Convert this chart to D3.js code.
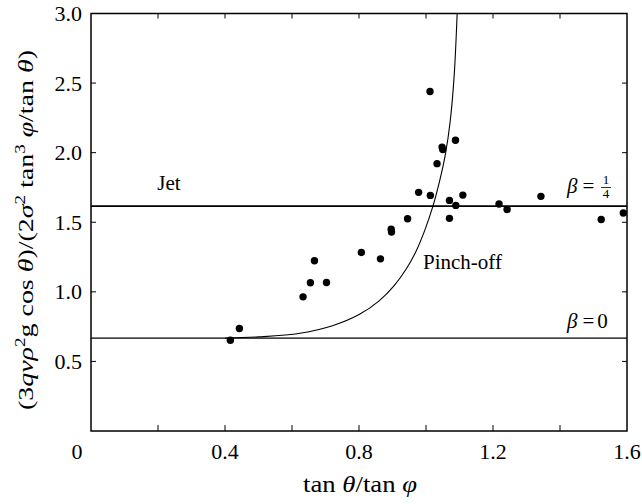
<!DOCTYPE html>
<html>
<head>
<meta charset="utf-8">
<script src="https://cdn.jsdelivr.net/npm/d3@7"></script>
<style>
  body { margin: 0; background: #fff; }
</style>
</head>
<body>
<svg id="chart" width="642" height="504"></svg>
<script>
// measured points (tan theta / tan phi, scaled flux)
var puntosX = [0.416, 0.443, 0.633, 0.655, 0.667, 0.703, 0.807, 0.864, 0.896, 0.897, 0.945, 0.978,
               1.012, 1.013, 1.033, 1.048, 1.050, 1.070, 1.070, 1.088, 1.089, 1.110, 1.218, 1.242,
               1.343, 1.523, 1.589];
var puntosY = [0.652, 0.736, 0.964, 1.065, 1.223, 1.067, 1.283, 1.237, 1.450, 1.430, 1.525, 1.715,
               2.439, 1.693, 1.921, 2.040, 2.022, 1.657, 1.528, 2.089, 1.621, 1.695, 1.631, 1.592,
               1.686, 1.520, 1.566];

// pinch-off boundary
var curvaX = [0.400, 0.500, 0.624, 0.723, 0.803, 0.860, 0.905, 0.940, 0.970, 0.996, 1.020, 1.040, 1.058, 1.072, 1.084, 1.093];
var curvaY = [0.667, 0.676, 0.702, 0.758, 0.840, 0.935, 1.045, 1.160, 1.290, 1.440, 1.610, 1.790, 1.990, 2.220, 2.550, 3.000];

var betaCero = 0.667;
var betaCuarto = 1.616;

var ticksX = [0.4, 0.8, 1.2, 1.6];
var ticksXmenor = [0.2, 0.4, 0.6, 0.8, 1.0, 1.2, 1.4];
var ticksY = [0.5, 1.0, 1.5, 2.0, 2.5, 3.0];

var margen = { izq: 91, der: 627, arr: 13.5, aba: 431 };
var fuente = "Liberation Serif";

var svg = d3.select("#chart");
var x = d3.scaleLinear().domain([0, 1.6]).range([margen.izq, margen.der]);
var y = d3.scaleLinear().domain([0, 3.0]).range([margen.aba, margen.arr]);

// horizontal beta lines
svg.append("line")
    .attr("x1", x(0)).attr("x2", x(1.6))
    .attr("y1", y(betaCuarto)).attr("y2", y(betaCuarto))
    .attr("stroke", "#000").attr("stroke-width", 1.7);
svg.append("line")
    .attr("x1", x(0)).attr("x2", x(1.6))
    .attr("y1", y(betaCero)).attr("y2", y(betaCero))
    .attr("stroke", "#000").attr("stroke-width", 1.2);

// boundary curve
var curva = d3.line()
    .x(function (d) { return x(d[0]); })
    .y(function (d) { return y(d[1]); })
    .curve(d3.curveCatmullRom.alpha(0.5));
svg.append("path")
    .datum(d3.zip(curvaX, curvaY))
    .attr("d", curva)
    .attr("fill", "none")
    .attr("stroke", "#000")
    .attr("stroke-width", 1.1);

// points
svg.append("g").selectAll("circle")
    .data(d3.zip(puntosX, puntosY))
    .enter().append("circle")
    .attr("cx", function (d) { return x(d[0]); })
    .attr("cy", function (d) { return y(d[1]); })
    .attr("r", 3.7)
    .attr("fill", "#000");

// frame
svg.append("rect")
    .attr("x", margen.izq).attr("y", margen.arr)
    .attr("width", margen.der - margen.izq).attr("height", margen.aba - margen.arr)
    .attr("fill", "none").attr("stroke", "#000").attr("stroke-width", 1.5);

// inward ticks
var gt = svg.append("g").attr("stroke", "#000").attr("stroke-width", 1);
ticksXmenor.forEach(function (t) {
    gt.append("line").attr("x1", x(t)).attr("x2", x(t)).attr("y1", margen.aba).attr("y2", margen.aba - 6);
    gt.append("line").attr("x1", x(t)).attr("x2", x(t)).attr("y1", margen.arr).attr("y2", margen.arr + 5);
});
ticksY.slice(0, 5).forEach(function (t) {
    gt.append("line").attr("x1", margen.izq).attr("x2", margen.izq + 5).attr("y1", y(t)).attr("y2", y(t));
    gt.append("line").attr("x1", margen.der).attr("x2", margen.der - 5).attr("y1", y(t)).attr("y2", y(t));
});

// tick labels
svg.append("g").selectAll("text")
    .data(ticksX).enter().append("text")
    .attr("x", function (d) { return x(d); })
    .attr("y", 459)
    .attr("text-anchor", "middle")
    .attr("font-size", 22)
    .text(function (d) { return d3.format(".1f")(d); });
svg.append("text").attr("x", 77).attr("y", 459).attr("text-anchor", "middle")
    .attr("font-size", 22).text("0");
svg.append("g").selectAll("text")
    .data(ticksY).enter().append("text")
    .attr("x", 82)
    .attr("y", function (d) { return y(d) + 7.5; })
    .attr("text-anchor", "end")
    .attr("font-size", 22)
    .text(function (d) { return d3.format(".1f")(d); });

// axis titles
var tx = svg.append("text").attr("x", 303).attr("y", 492)
    .attr("font-size", 24)
    .attr("textLength", 114).attr("lengthAdjust", "spacingAndGlyphs");
tx.append("tspan").text("tan ");
tx.append("tspan").attr("font-style", "italic").text("θ");
tx.append("tspan").text("/tan ");
tx.append("tspan").attr("font-style", "italic").text("φ");

var ty = svg.append("text")
    .attr("transform", "translate(33,410) rotate(-90)")
    .attr("font-size", 22)
    .attr("textLength", 360).attr("lengthAdjust", "spacingAndGlyphs");
var partes = [["(3", 0], ["qvρ", 1], ["2", 2], ["g cos ", 0], ["θ", 1], [")/(2", 0], ["σ", 1], ["2", 2],
              [" tan", 0], ["3", 2], [" ", 0], ["φ", 1], ["/tan ", 0], ["θ", 1], [")", 0]];
var subido = false;
partes.forEach(function (p) {
    var s = ty.append("tspan").text(p[0]);
    if (p[1] == 1) s.attr("font-style", "italic");
    if (p[1] == 2) { s.attr("font-size", 15).attr("dy", -8); subido = true; }
    else if (subido) { s.attr("dy", 8); subido = false; }
});

// region labels
svg.append("text").attr("x", 169).attr("y", 190).attr("text-anchor", "middle")
    .attr("font-size", 21).text("Jet");
svg.append("text").attr("x", 423).attr("y", 269)
    .attr("font-size", 21).text("Pinch-off");

var b1 = svg.append("text").attr("x", 567).attr("y", 193).attr("font-size", 21);
b1.append("tspan").attr("font-style", "italic").text("β");
b1.append("tspan").attr("dx", 5).text("=");
svg.append("text").attr("x", 606).attr("y", 184).attr("text-anchor", "middle").attr("font-size", 13).text("1");
svg.append("line").attr("x1", 601).attr("x2", 611).attr("y1", 187.5).attr("y2", 187.5)
    .attr("stroke", "#000").attr("stroke-width", 0.8);
svg.append("text").attr("x", 606).attr("y", 198).attr("text-anchor", "middle").attr("font-size", 13).text("4");

var b0 = svg.append("text").attr("x", 567).attr("y", 328).attr("font-size", 21);
b0.append("tspan").attr("font-style", "italic").text("β");
b0.append("tspan").attr("dx", 5).text("=");
b0.append("tspan").attr("dx", 3).text("0");

svg.selectAll("text").attr("font-family", fuente).attr("fill", "#000");
</script>
</body>
</html>
